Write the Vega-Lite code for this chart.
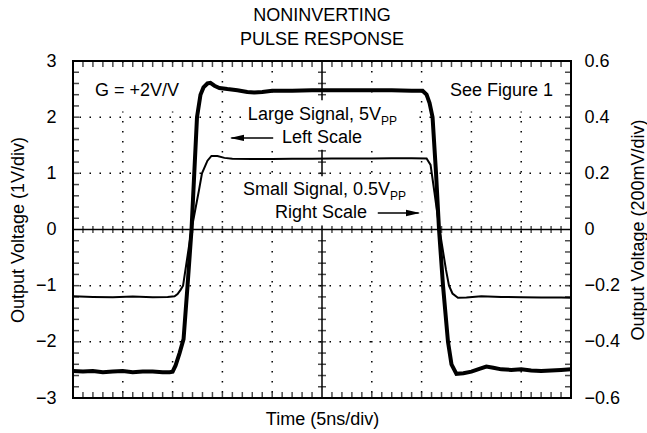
{
  "$schema": "https://vega.github.io/schema/vega-lite/v6.json",
  "width": 498,
  "height": 337,
  "autosize": {"type": "none"},
  "padding": {"left": 73, "top": 61, "right": 76, "bottom": 35},
  "background": "white",
  "title": {
    "text": ["NONINVERTING", "PULSE RESPONSE"],
    "fontSize": 18,
    "fontWeight": "normal",
    "lineHeight": 24,
    "color": "black",
    "anchor": "middle",
    "frame": "group",
    "offset": 3
  },
  "config": {
    "font": "Liberation Sans",
    "view": {"stroke": "black", "strokeWidth": 2},
    "axis": {
      "labelFontSize": 18,
      "labelColor": "black",
      "titleFontSize": 18,
      "titleFontWeight": "normal",
      "titleColor": "black",
      "grid": false,
      "ticks": false,
      "tickSize": 0,
      "domain": false
    }
  },
  "datasets": {
    "large": [
      {"t": 0, "v": -2.52}, {"t": 1, "v": -2.53}, {"t": 2, "v": -2.52}, {"t": 3, "v": -2.54}, {"t": 4, "v": -2.53},
      {"t": 5, "v": -2.52}, {"t": 6, "v": -2.54}, {"t": 7, "v": -2.53}, {"t": 8, "v": -2.53}, {"t": 9, "v": -2.54},
      {"t": 9.7, "v": -2.54}, {"t": 10.0, "v": -2.53}, {"t": 10.3, "v": -2.42}, {"t": 10.7, "v": -2.2},
      {"t": 11.1, "v": -1.95}, {"t": 11.5, "v": -1.0}, {"t": 11.9, "v": 0}, {"t": 12.45, "v": 2.0},
      {"t": 12.8, "v": 2.4}, {"t": 13.1, "v": 2.53}, {"t": 13.5, "v": 2.6}, {"t": 13.8, "v": 2.61},
      {"t": 14.2, "v": 2.56}, {"t": 14.7, "v": 2.52}, {"t": 15.5, "v": 2.5}, {"t": 16.5, "v": 2.48},
      {"t": 17.5, "v": 2.45}, {"t": 18.2, "v": 2.44}, {"t": 19, "v": 2.45}, {"t": 20, "v": 2.47},
      {"t": 22, "v": 2.47}, {"t": 24, "v": 2.48}, {"t": 26, "v": 2.48}, {"t": 28, "v": 2.48},
      {"t": 30, "v": 2.48}, {"t": 32, "v": 2.48}, {"t": 34, "v": 2.47}, {"t": 35.1, "v": 2.47},
      {"t": 35.5, "v": 2.4}, {"t": 35.8, "v": 2.25}, {"t": 36.1, "v": 2.0}, {"t": 36.45, "v": 1.0},
      {"t": 36.75, "v": 0}, {"t": 37.15, "v": -1.0}, {"t": 37.65, "v": -2.0}, {"t": 38.0, "v": -2.4},
      {"t": 38.5, "v": -2.57}, {"t": 39.2, "v": -2.56}, {"t": 40, "v": -2.53}, {"t": 40.8, "v": -2.48},
      {"t": 41.5, "v": -2.44}, {"t": 42.2, "v": -2.46}, {"t": 43, "v": -2.49}, {"t": 44, "v": -2.5},
      {"t": 45, "v": -2.49}, {"t": 46, "v": -2.51}, {"t": 47, "v": -2.52}, {"t": 48, "v": -2.51},
      {"t": 49, "v": -2.5}, {"t": 50, "v": -2.49}
    ],
    "small": [
      {"t": 0, "v": -0.238}, {"t": 2, "v": -0.24}, {"t": 4, "v": -0.241}, {"t": 6, "v": -0.239},
      {"t": 8, "v": -0.241}, {"t": 9.5, "v": -0.24}, {"t": 10.2, "v": -0.238}, {"t": 10.5, "v": -0.23},
      {"t": 10.8, "v": -0.215}, {"t": 11.05, "v": -0.2}, {"t": 11.9, "v": 0}, {"t": 12.65, "v": 0.14},
      {"t": 12.95, "v": 0.2}, {"t": 13.5, "v": 0.245}, {"t": 13.9, "v": 0.262}, {"t": 14.5, "v": 0.262},
      {"t": 15.2, "v": 0.255}, {"t": 16, "v": 0.252}, {"t": 18, "v": 0.251}, {"t": 20, "v": 0.251},
      {"t": 22, "v": 0.252}, {"t": 24, "v": 0.252}, {"t": 26, "v": 0.253}, {"t": 28, "v": 0.253},
      {"t": 30, "v": 0.253}, {"t": 32, "v": 0.254}, {"t": 34, "v": 0.254}, {"t": 35.5, "v": 0.253},
      {"t": 35.9, "v": 0.23}, {"t": 36.3, "v": 0.13}, {"t": 36.8, "v": 0.0}, {"t": 37.45, "v": -0.144},
      {"t": 37.75, "v": -0.2}, {"t": 38.1, "v": -0.228}, {"t": 38.65, "v": -0.243}, {"t": 39.5, "v": -0.242},
      {"t": 41, "v": -0.238}, {"t": 43, "v": -0.24}, {"t": 45, "v": -0.241}, {"t": 47, "v": -0.242},
      {"t": 49, "v": -0.242}, {"t": 50, "v": -0.243}
    ],
    "vgrid": [{"t": 5}, {"t": 10}, {"t": 15}, {"t": 20}, {"t": 30}, {"t": 35}, {"t": 40}, {"t": 45}],
    "hgrid": [{"v": -2}, {"v": -1}, {"v": 1}, {"v": 2}],
    "tt": [
      {"t": 1}, {"t": 2}, {"t": 3}, {"t": 4}, {"t": 5}, {"t": 6}, {"t": 7}, {"t": 8}, {"t": 9}, {"t": 10},
      {"t": 11}, {"t": 12}, {"t": 13}, {"t": 14}, {"t": 15}, {"t": 16}, {"t": 17}, {"t": 18}, {"t": 19}, {"t": 20},
      {"t": 21}, {"t": 22}, {"t": 23}, {"t": 24}, {"t": 26}, {"t": 27}, {"t": 28}, {"t": 29}, {"t": 30},
      {"t": 31}, {"t": 32}, {"t": 33}, {"t": 34}, {"t": 35}, {"t": 36}, {"t": 37}, {"t": 38}, {"t": 39}, {"t": 40},
      {"t": 41}, {"t": 42}, {"t": 43}, {"t": 44}, {"t": 45}, {"t": 46}, {"t": 47}, {"t": 48}, {"t": 49}
    ],
    "vt": [
      {"v": -2.8}, {"v": -2.6}, {"v": -2.4}, {"v": -2.2}, {"v": -2.0}, {"v": -1.8}, {"v": -1.6}, {"v": -1.4},
      {"v": -1.2}, {"v": -1.0}, {"v": -0.8}, {"v": -0.6}, {"v": -0.4}, {"v": -0.2}, {"v": 0.2}, {"v": 0.4},
      {"v": 0.6}, {"v": 0.8}, {"v": 1.0}, {"v": 1.2}, {"v": 1.4}, {"v": 1.6}, {"v": 1.8}, {"v": 2.0},
      {"v": 2.2}, {"v": 2.4}, {"v": 2.6}, {"v": 2.8}
    ],
    "masks": [
      {"t": 1.8, "t2": 11.6, "v": 2.85, "v2": 2.1},
      {"t": 36.8, "t2": 48.8, "v": 2.85, "v2": 2.1},
      {"t": 16.9, "t2": 34.4, "v": 2.3, "v2": 1.42},
      {"t": 16.2, "t2": 35.0, "v": 0.95, "v2": 0.07}
    ],
    "labelsLeft": [
      {"t": 2.2, "v": 2.38, "label": "G = +2V/V"},
      {"t": 20.98, "v": 1.54, "label": "Left Scale"},
      {"t": 20.28, "v": 0.205, "label": "Right Scale"}
    ],
    "labelsRight": [
      {"t": 48.2, "v": 2.38, "label": "See Figure 1"},
      {"t": 30.92, "v": 1.95, "label": "Large Signal, 5V"},
      {"t": 31.83, "v": 0.614, "label": "Small Signal, 0.5V"}
    ],
    "subs": [
      {"t": 30.92, "v": 1.86, "label": "PP"},
      {"t": 31.83, "v": 0.525, "label": "PP"}
    ],
    "arrows": [
      {"t": 15.9, "t2": 20.1, "v": 1.63},
      {"t": 30.6, "t2": 34.7, "v": 0.294}
    ],
    "headsLeft": [{"t": 15.76, "v": 1.63}],
    "headsRight": [{"t": 34.84, "v": 0.294}]
  },
  "layer": [
    {
      "layer": [
        {
          "data": {"name": "vgrid"},
          "mark": {"type": "rule", "color": "black", "strokeWidth": 1.5, "strokeDash": [1.5, 8.5]},
          "encoding": {
            "x": {"field": "t", "type": "quantitative", "scale": {"domain": [0, 50], "nice": false, "zero": false},
              "axis": {"title": "Time (5ns/div)", "labels": false, "titlePadding": 12}}
          }
        },
        {
          "data": {"name": "hgrid"},
          "mark": {"type": "rule", "color": "black", "strokeWidth": 1.5, "strokeDash": [1.5, 8.5]},
          "encoding": {
            "y": {"field": "v", "type": "quantitative", "scale": {"domain": [-3, 3], "nice": false, "zero": false},
              "axis": {"title": "Output Voltage (1V/div)", "values": [-3, -2, -1, 0, 1, 2, 3], "format": "d", "labelPadding": 17, "titlePadding": 8}}
          }
        },
        {
          "data": {"values": [{}]},
          "mark": {"type": "rule", "color": "black", "strokeWidth": 1.5},
          "encoding": {"x": {"datum": 25, "type": "quantitative"}}
        },
        {
          "data": {"values": [{}]},
          "mark": {"type": "rule", "color": "black", "strokeWidth": 1.5},
          "encoding": {"y": {"datum": 0, "type": "quantitative"}}
        },
        {
          "data": {"name": "tt"},
          "mark": {"type": "tick", "orient": "vertical", "size": 12, "thickness": 1.5, "color": "black", "clip": true},
          "encoding": {"x": {"field": "t", "type": "quantitative"}, "y": {"datum": 3, "type": "quantitative"}}
        },
        {
          "data": {"name": "tt"},
          "mark": {"type": "tick", "orient": "vertical", "size": 12, "thickness": 1.5, "color": "black", "clip": true},
          "encoding": {"x": {"field": "t", "type": "quantitative"}, "y": {"datum": -3, "type": "quantitative"}}
        },
        {
          "data": {"name": "tt"},
          "mark": {"type": "tick", "orient": "vertical", "size": 7, "thickness": 1.5, "color": "black"},
          "encoding": {"x": {"field": "t", "type": "quantitative"}, "y": {"datum": 0, "type": "quantitative"}}
        },
        {
          "data": {"name": "vt"},
          "mark": {"type": "tick", "orient": "horizontal", "size": 12, "thickness": 1.5, "color": "black", "clip": true},
          "encoding": {"y": {"field": "v", "type": "quantitative"}, "x": {"datum": 0, "type": "quantitative"}}
        },
        {
          "data": {"name": "vt"},
          "mark": {"type": "tick", "orient": "horizontal", "size": 12, "thickness": 1.5, "color": "black", "clip": true},
          "encoding": {"y": {"field": "v", "type": "quantitative"}, "x": {"datum": 50, "type": "quantitative"}}
        },
        {
          "data": {"name": "vt"},
          "mark": {"type": "tick", "orient": "horizontal", "size": 8, "thickness": 1.5, "color": "black"},
          "encoding": {"y": {"field": "v", "type": "quantitative"}, "x": {"datum": 25, "type": "quantitative"}}
        },
        {
          "data": {"name": "masks"},
          "mark": {"type": "rect", "color": "white", "opacity": 1},
          "encoding": {"x": {"field": "t", "type": "quantitative"}, "x2": {"field": "t2"}, "y": {"field": "v", "type": "quantitative"}, "y2": {"field": "v2"}}
        },
        {
          "data": {"name": "large"},
          "mark": {"type": "line", "color": "black", "strokeWidth": 4, "clip": true},
          "encoding": {"x": {"field": "t", "type": "quantitative"}, "y": {"field": "v", "type": "quantitative"}}
        },
        {
          "data": {"name": "labelsLeft"},
          "mark": {"type": "text", "align": "left", "baseline": "alphabetic", "fontSize": 18, "color": "black"},
          "encoding": {"x": {"field": "t", "type": "quantitative"}, "y": {"field": "v", "type": "quantitative"}, "text": {"field": "label"}}
        },
        {
          "data": {"name": "labelsRight"},
          "mark": {"type": "text", "align": "right", "baseline": "alphabetic", "fontSize": 18, "color": "black"},
          "encoding": {"x": {"field": "t", "type": "quantitative"}, "y": {"field": "v", "type": "quantitative"}, "text": {"field": "label"}}
        },
        {
          "data": {"name": "subs"},
          "mark": {"type": "text", "align": "left", "baseline": "alphabetic", "fontSize": 12, "color": "black"},
          "encoding": {"x": {"field": "t", "type": "quantitative"}, "y": {"field": "v", "type": "quantitative"}, "text": {"field": "label"}}
        },
        {
          "data": {"name": "arrows"},
          "mark": {"type": "rule", "color": "black", "strokeWidth": 1.5},
          "encoding": {"x": {"field": "t", "type": "quantitative"}, "x2": {"field": "t2"}, "y": {"field": "v", "type": "quantitative"}}
        },
        {
          "data": {"name": "headsLeft"},
          "mark": {"type": "point", "shape": "M0,0L2,-0.45L2,0.45Z", "size": 196, "filled": true, "color": "black", "opacity": 1},
          "encoding": {"x": {"field": "t", "type": "quantitative"}, "y": {"field": "v", "type": "quantitative"}}
        },
        {
          "data": {"name": "headsRight"},
          "mark": {"type": "point", "shape": "M0,0L-2,-0.45L-2,0.45Z", "size": 196, "filled": true, "color": "black", "opacity": 1},
          "encoding": {"x": {"field": "t", "type": "quantitative"}, "y": {"field": "v", "type": "quantitative"}}
        }
      ]
    },
    {
      "data": {"name": "small"},
      "mark": {"type": "line", "color": "black", "strokeWidth": 2, "clip": true},
      "encoding": {
        "x": {"field": "t", "type": "quantitative"},
        "y": {"field": "v", "type": "quantitative", "scale": {"domain": [-0.6, 0.6], "nice": false, "zero": false},
          "axis": {"orient": "right", "title": "Output Voltage (200mV/div)", "values": [-0.6, -0.4, -0.2, 0, 0.2, 0.4, 0.6], "format": ".1~f", "labelPadding": 13, "titlePadding": 10, "titleAngle": 270, "titleBaseline": "top"}}
      }
    }
  ],
  "resolve": {"scale": {"y": "independent"}, "axis": {"y": "independent"}}
}
